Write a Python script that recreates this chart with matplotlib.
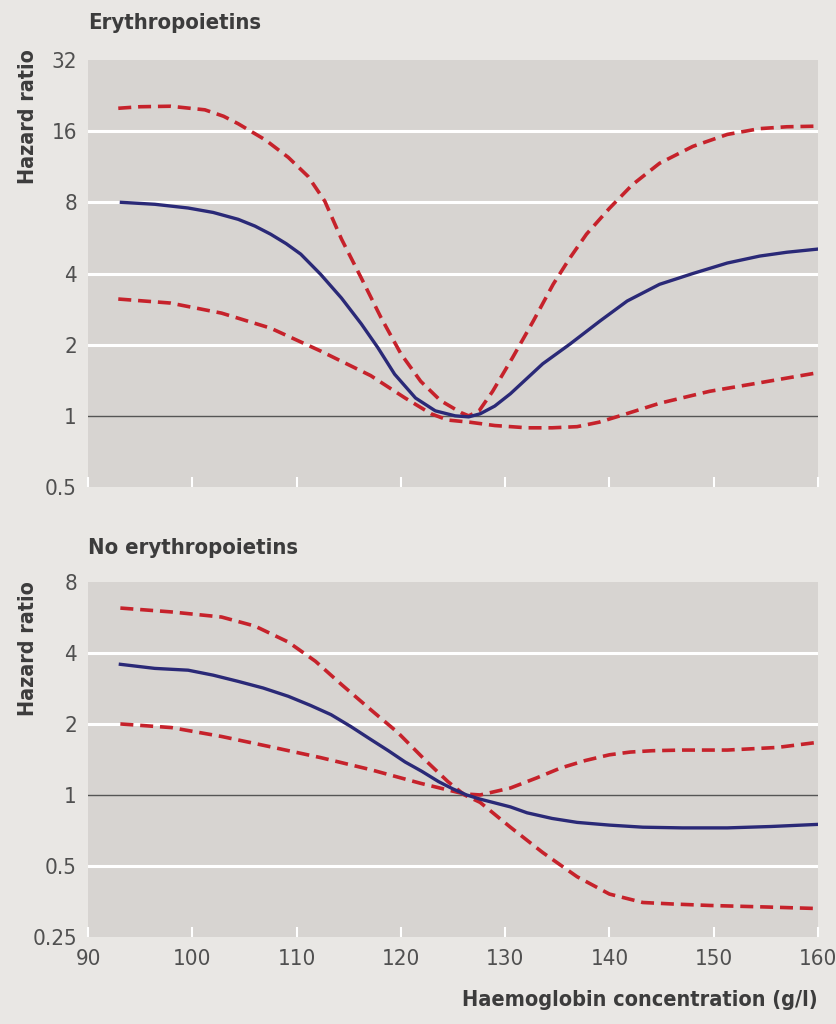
import matplotlib

matplotlib.use("Agg")
import matplotlib.pyplot as plt
from matplotlib.ticker import FixedLocator, NullFormatter

# Erythropoietins panel: hazard ratio vs haemoglobin (g/l)
epo_x = [93.2, 96.4, 99.6, 102, 104.4, 106, 107.5, 109, 110.4, 112.3, 114.3, 116.2, 117.8, 119.4, 121.4,
         123.3, 125.2, 126.5, 127.6, 129, 130.5, 133.6, 136.2, 139.1, 141.7, 144.8, 148, 151.3, 154.4, 157, 159.9]
epo_hr = [8.0, 7.85, 7.57, 7.25, 6.78, 6.35, 5.87, 5.35, 4.83, 3.97, 3.15, 2.45, 1.94, 1.5, 1.19,
          1.05, 1.0, 0.99, 1.02, 1.1, 1.24, 1.66, 2.01, 2.52, 3.06, 3.6, 4.0, 4.43, 4.74, 4.92, 5.07]

epo_up_x = [92.9, 95, 97.9, 101.2, 103, 104.4, 107, 109.2, 111.1, 112.7, 114.3, 116.2, 118.1, 120, 121.9,
            123.8, 125.8, 126.5, 127.5, 128.8, 130.7, 132.7, 134.6, 136.2, 137.8, 140, 142.2, 144.8, 148,
            151.3, 154.4, 157, 159.9]
epo_up_hr = [20.0, 20.3, 20.4, 19.7, 18.5, 17.2, 14.7, 12.4, 10.3, 8.1, 5.6, 3.83, 2.6, 1.83, 1.4,
             1.16, 1.03, 1.0, 1.05, 1.27, 1.76, 2.52, 3.6, 4.65, 5.87, 7.55, 9.5, 11.7, 13.8,
             15.5, 16.4, 16.7, 16.8]

epo_lo_x = [92.9, 97.9, 102.8, 107.5, 112.3, 117.1, 120.4, 122.9, 124.5, 126.6, 129, 132.1, 134.5, 136.9,
            139, 141, 144.8, 149.6, 154.4, 159.9]
epo_lo_hr = [3.12, 3.0, 2.72, 2.35, 1.88, 1.48, 1.19, 1.02, 0.96, 0.94, 0.91, 0.89, 0.89, 0.9,
             0.94, 1.0, 1.13, 1.27, 1.38, 1.52]

# No erythropoietins panel
noepo_x = [93.1, 96.4, 99.6, 102, 104.4, 106.8, 109.2, 111.3, 113.3, 115.2, 117.1, 118.8, 120.4, 122,
           123.6, 125, 126.3, 127.6, 130.5, 132.1, 134.5, 136.9, 140, 143.2, 147, 151.3, 155.5, 159.9]
noepo_hr = [3.58, 3.44, 3.38, 3.22, 3.03, 2.84, 2.62, 2.4, 2.19, 1.95, 1.72, 1.54, 1.38, 1.26,
            1.14, 1.06, 1.0, 0.96, 0.89, 0.84, 0.795, 0.765, 0.745, 0.73, 0.725, 0.725, 0.735, 0.75]

noepo_up_x = [93.1, 98, 102.8, 106, 109.2, 111.8, 114.3, 117.1, 119.7, 122.3, 124.5, 126.1, 127.6, 130.5,
              133.6, 136.9, 140, 143.2, 146, 149.6, 155, 159.9]
noepo_up_hr = [6.2, 5.97, 5.68, 5.2, 4.45, 3.69, 2.94, 2.3, 1.84, 1.41, 1.14, 1.0, 0.93, 0.73,
               0.57, 0.45, 0.38, 0.35, 0.345, 0.34, 0.335, 0.33]

noepo_lo_x = [93.1, 98, 102.8, 107.5, 112.3, 117.1, 121.9, 124.5, 126.1, 127.6, 130.5, 133, 135.3, 137.7,
              140, 142, 144.1, 147, 151.3, 156.1, 159.9]
noepo_lo_hr = [2.0, 1.93, 1.77, 1.6, 1.44, 1.28, 1.12, 1.05, 1.01, 1.0, 1.07, 1.18, 1.3, 1.4,
               1.48, 1.52, 1.54, 1.55, 1.55, 1.59, 1.67]

top_ticks = [0.5, 1, 2, 4, 8, 16, 32]
top_labels = ["0.5", "1", "2", "4", "8", "16", "32"]
bottom_ticks = [0.25, 0.5, 1, 2, 4, 8]
bottom_labels = ["0.25", "0.5", "1", "2", "4", "8"]
x_ticks = [90, 100, 110, 120, 130, 140, 150, 160]

BG = "#e9e7e4"
PANEL = "#d7d4d1"
NAVY = "#2a2977"
RED = "#c6222b"
TEXT = "#3c3c3c"
TICK_TEXT = "#505050"
FONT = dict(family="DejaVu Sans", stretch="condensed")

fig = plt.figure(figsize=(8.36, 10.24), dpi=100, facecolor=BG)
ax_top = fig.add_axes([0.1053, 0.5244, 0.8732, 0.4170])
ax_bot = fig.add_axes([0.1053, 0.0850, 0.8732, 0.3467])


def style_panel(ax, ticks, labels):
    ax.set_facecolor(PANEL)
    ax.set_yscale("log", base=2)
    ax.set_ylim(ticks[0], ticks[-1])
    ax.set_xlim(90, 160)
    for s in ax.spines.values():
        s.set_visible(False)
    for t in ticks[1:-1]:
        if t == 1:
            ax.axhline(t, color="#555555", lw=1.0, zorder=1)
        else:
            ax.axhline(t, color="white", lw=2.2, zorder=1)
    ax.yaxis.set_major_locator(FixedLocator(ticks))
    ax.yaxis.set_minor_locator(FixedLocator([]))
    ax.set_yticklabels(labels, **FONT)
    ax.tick_params(axis="y", length=0, pad=8, labelsize=16, labelcolor=TICK_TEXT)
    ax.xaxis.set_major_locator(FixedLocator(x_ticks))
    ax.tick_params(axis="x", direction="in", length=7, width=1.5, color="white",
                   labelsize=16, labelcolor=TICK_TEXT, pad=9)


style_panel(ax_top, top_ticks, top_labels)
style_panel(ax_bot, bottom_ticks, bottom_labels)
ax_top.xaxis.set_major_formatter(NullFormatter())
ax_bot.set_xticklabels([str(v) for v in x_ticks], **FONT)

dash = (3.6, 1.9)
ax_top.plot(epo_up_x, epo_up_hr, color=RED, lw=2.6, dashes=dash, zorder=3)
ax_top.plot(epo_lo_x, epo_lo_hr, color=RED, lw=2.6, dashes=dash, zorder=3)
ax_top.plot(epo_x, epo_hr, color=NAVY, lw=2.4, zorder=4)

ax_bot.plot(noepo_up_x, noepo_up_hr, color=RED, lw=2.6, dashes=dash, zorder=3)
ax_bot.plot(noepo_lo_x, noepo_lo_hr, color=RED, lw=2.6, dashes=dash, zorder=3)
ax_bot.plot(noepo_x, noepo_hr, color=NAVY, lw=2.4, zorder=4)

fig.text(0.1053, 0.978, "Erythropoietins", ha="left", va="center", fontsize=15.8,
         fontweight="bold", color=TEXT, **FONT)
fig.text(0.1053, 0.465, "No erythropoietins", ha="left", va="center", fontsize=15.8,
         fontweight="bold", color=TEXT, **FONT)
fig.text(0.033, 0.886, "Hazard ratio", rotation=90, ha="center", va="center",
         fontsize=15.4, fontweight="bold", color=TEXT, **FONT)
fig.text(0.033, 0.367, "Hazard ratio", rotation=90, ha="center", va="center",
         fontsize=15.4, fontweight="bold", color=TEXT, **FONT)
fig.text(0.9785, 0.023, "Haemoglobin concentration (g/l)", ha="right", va="center",
         fontsize=15.6, fontweight="bold", color=TEXT, **FONT)

fig.savefig("out.png", dpi=100, facecolor=BG)
